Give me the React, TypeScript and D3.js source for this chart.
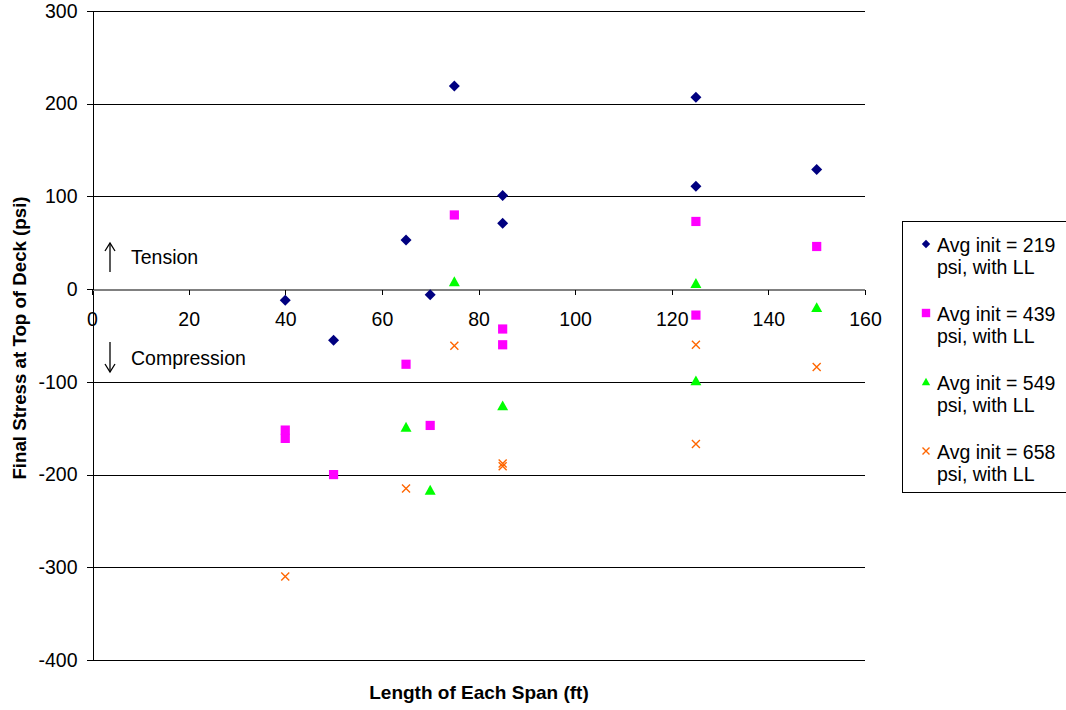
import React, { useEffect, useRef } from 'react';
import * as d3 from 'd3';

type Pt = [number, number];

// Span length (ft) vs final stress (psi)
const avg219: Pt[] = [[40, -12], [50, -55], [65, 53], [70, -6], [75, 219], [85, 71], [85, 101], [125, 111], [125, 207], [150, 129]];
const avg439: Pt[] = [[40, -152], [40, -161], [50, -200], [65, -81], [70, -147], [75, 80], [85, -43], [85, -60], [125, 73], [125, -28], [150, 46]];
const avg549: Pt[] = [[65, -149], [70, -217], [75, 8], [85, -126], [125, 6], [125, -99], [150, -20]];
const avg658: Pt[] = [[40, -310], [65, -215], [75, -61], [85, -188], [85, -191], [125, -60], [125, -167], [150, -84]];

const seriesNames = ['Avg init = 219', 'Avg init = 439', 'Avg init = 549', 'Avg init = 658'];
const seriesColors = ['#000080', '#ff00ff', '#00ff00', '#ff6600'];
const seriesShapes = ['diamond', 'square', 'triangle', 'x'];
const xTicks = [0, 20, 40, 60, 80, 100, 120, 140, 160];
const yTicks = [300, 200, 100, 0, -100, -200, -300, -400];

const FONT = 'Arial, "Liberation Sans", sans-serif';

// marker path, r = half-size
const marker = (shape: string, r: number) => {
  if (shape === 'diamond') return `M0,${-r}L${r},0L0,${r}L${-r},0Z`;
  if (shape === 'square') return `M${-r},${-r}H${r}V${r}H${-r}Z`;
  if (shape === 'triangle') return `M0,${-r}L${r},${r * 0.8}L${-r},${r * 0.8}Z`;
  return `M${-r},${-r}L${r},${r}M${-r},${r}L${r},${-r}`;
};

export default function App() {
  const svgRef = useRef<SVGSVGElement>(null);

  useEffect(() => {
    if (!svgRef.current) return;
    const svg = d3.select(svgRef.current);
    svg.selectAll('*').remove();

    const x = d3.scaleLinear().domain([0, 160]).range([92, 865]);
    const y = d3.scaleLinear().domain([-400, 300]).range([660, 11]);

    // gridlines
    svg.append('g')
      .selectAll('line')
      .data(yTicks)
      .join('line')
      .attr('x1', x(0)).attr('x2', x(160))
      .attr('y1', d => Math.round(y(d)) + 0.5).attr('y2', d => Math.round(y(d)) + 0.5)
      .attr('stroke', d => (d === 0 ? '#808080' : '#000'))
      .attr('stroke-width', 1);

    // y axis
    const yAxis = svg.append('g')
      .attr('transform', `translate(${x(0) + 0.5},0)`)
      .call(d3.axisLeft(y).tickValues(yTicks).tickFormat(d => String(d)).tickSize(6).tickSizeOuter(0));
    yAxis.select('.domain').attr('stroke', '#000').attr('shape-rendering', 'crispEdges');
    yAxis.selectAll('.tick line').attr('stroke', '#000').attr('shape-rendering', 'crispEdges');
    yAxis.selectAll('.tick text')
      .attr('font-family', FONT).attr('font-size', 19.5).attr('fill', '#000').attr('x', -15);

    // x axis across y = 0
    const xAxis = svg.append('g')
      .attr('transform', `translate(0,${Math.round(y(0)) + 0.5})`)
      .call(d3.axisBottom(x).tickValues(xTicks).tickFormat(d => String(d)).tickSize(5).tickSizeOuter(0));
    xAxis.select('.domain').attr('stroke', '#808080').attr('shape-rendering', 'crispEdges');
    xAxis.selectAll('.tick line').attr('stroke', '#000').attr('shape-rendering', 'crispEdges');
    xAxis.selectAll('.tick text')
      .attr('font-family', FONT).attr('font-size', 19.5).attr('fill', '#000').attr('dy', 0).attr('y', 36);

    // annotations
    const ann = svg.append('g').attr('font-family', FONT).attr('font-size', 19.5).attr('fill', '#000');
    const ax = x(0) + 18;
    const arrow = (y1: number, y2: number) => {
      const dir = y2 > y1 ? 1 : -1;
      ann.append('line').attr('x1', ax).attr('x2', ax).attr('y1', y1).attr('y2', y2)
        .attr('stroke', '#000').attr('stroke-width', 1.3);
      ann.append('path')
        .attr('d', `M${ax - 5},${y2 - dir * 8}L${ax},${y2}L${ax + 5},${y2 - dir * 8}`)
        .attr('fill', 'none').attr('stroke', '#000').attr('stroke-width', 1.3);
    };
    arrow(272, 243);
    arrow(342, 372);
    ann.append('text').attr('x', ax + 21).attr('y', 264).text('Tension');
    ann.append('text').attr('x', ax + 21).attr('y', 365).text('Compression');

    const allSeries = [avg219, avg439, avg549, avg658];
    const sizes = [5.5, 4.6, 5.5, 4];
    allSeries.forEach((data, i) => {
      const shape = seriesShapes[i];
      svg.append('g')
        .selectAll('path')
        .data(data)
        .join('path')
        .attr('transform', d => `translate(${x(d[0])},${y(d[1])})`)
        .attr('d', marker(shape, sizes[i]))
        .attr('fill', shape === 'x' ? 'none' : seriesColors[i])
        .attr('stroke', seriesColors[i])
        .attr('stroke-width', shape === 'x' ? 1.4 : 0);
    });

    // axis titles
    svg.append('text')
      .attr('x', 479).attr('y', 699)
      .attr('text-anchor', 'middle')
      .attr('font-family', FONT).attr('font-size', 19).attr('font-weight', 'bold')
      .text('Length of Each Span (ft)');
    svg.append('text')
      .attr('transform', `translate(26,338) rotate(-90)`)
      .attr('text-anchor', 'middle')
      .attr('font-family', FONT).attr('font-size', 18.7).attr('font-weight', 'bold')
      .text('Final Stress at Top of Deck (psi)');

    // legend
    const legend = svg.append('g');
    legend.append('rect')
      .attr('x', 902.5).attr('y', 221.5).attr('width', 170).attr('height', 271)
      .attr('fill', '#fff').attr('stroke', '#000');
    seriesNames.forEach((name, i) => {
      const top = 244 + i * 69;
      const shape = seriesShapes[i];
      legend.append('path')
        .attr('transform', `translate(926,${top})`)
        .attr('d', marker(shape, shape === 'x' ? 3.5 : 4.2))
        .attr('fill', shape === 'x' ? 'none' : seriesColors[i])
        .attr('stroke', seriesColors[i])
        .attr('stroke-width', shape === 'x' ? 1.4 : 0);
      const t = legend.append('text')
        .attr('font-family', FONT).attr('font-size', 19.5).attr('fill', '#000');
      t.append('tspan').attr('x', 937).attr('y', top + 8).text(name);
      t.append('tspan').attr('x', 937).attr('y', top + 30).text('psi, with LL');
    });
  }, []);

  return (
    <svg
      ref={svgRef}
      width={1066}
      height={710}
      style={{ position: 'absolute', left: 0, top: 0, background: '#fff' }}
    />
  );
}
